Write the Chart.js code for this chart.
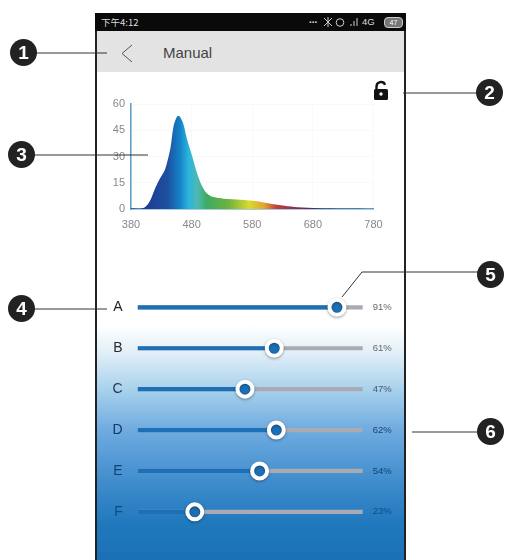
<!DOCTYPE html>
<html><head><meta charset="utf-8">
<script src="https://cdn.jsdelivr.net/npm/chart.js@4"></script>
<style>
html,body{margin:0;padding:0;background:#fff;width:505px;height:560px;overflow:hidden;font-family:"Liberation Sans",Arial,sans-serif}
.abs{position:absolute}
#phone{left:95px;top:13px;width:311px;height:547px;box-sizing:border-box;border-left:2px solid #222;border-right:2px solid #222;
background:linear-gradient(to bottom,#fff 0,#fff 312px,#e2eff8 340px,#a6d0ec 378px,#6fabe0 417px,#3f8ccc 470px,#2079bd 510px,#1c70b6 547px)}
#status{left:95px;top:13px;width:311px;height:18px;background:#0a0a0a;color:#ddd;font-size:9.5px;line-height:18px}
#head{left:97px;top:31px;width:307px;height:41px;background:#e3e3e3}
#title{left:163px;top:44px;font-size:15px;color:#444}
.num{width:27px;height:27px;border-radius:50%;background:#222;color:#fff;text-align:center;font:bold 19px/27px "Liberation Sans",Arial,sans-serif}
canvas{position:absolute}
</style></head>
<body>
<div id="phone" class="abs"></div>
<div id="status" class="abs">
<span class="abs" style="left:6px;font-family:'Noto Sans CJK SC'">下午4:12</span>
<span class="abs" style="left:214px;top:-2px;font-size:10px;font-weight:bold">...</span>
<span class="abs" style="left:267px;font-size:9.5px">4G</span>
<span class="abs" style="left:289px;top:4px;width:17px;height:9px;border:1px solid #ccc;border-radius:4px;background:#777;font-size:7px;line-height:9px;text-align:center;color:#fff">47</span>
</div>
<div id="head" class="abs"></div>
<div id="title" class="abs">Manual</div>
<canvas id="spec" width="300" height="140" style="left:100px;top:90px;width:300px;height:140px"></canvas>
<canvas id="sl" width="310" height="305" style="left:96px;top:257px;width:310px;height:305px"></canvas>
<svg class="abs" style="left:0;top:0" width="505" height="560" viewBox="0 0 505 560" fill="none">
<g stroke="#ccc" stroke-width="1">
<path d="M324 18l8 8M332 18l-8 8M328 17v10"/>
<circle cx="340" cy="22.5" r="3.8"/>
<path d="M351 26v-2M354 26v-5M357 26v-8"/>
</g>
<polyline points="132,45 122,53.5 132,62" stroke="#555" stroke-width="1"/>
<g stroke="#333" stroke-width="1">
<line x1="36" y1="53" x2="107" y2="53"/>
<line x1="403" y1="93" x2="477" y2="93"/>
<line x1="34" y1="155" x2="148" y2="155"/>
<line x1="34" y1="309" x2="107" y2="309"/>
<polyline points="342,297 362,272 478,272"/>
<line x1="412" y1="432" x2="478" y2="432"/>
</g>
<path d="M376.5 90v-3.5a4.5 4.5 0 0 1 8.6-1.8" stroke="#111" stroke-width="2.4"/>
<rect x="374" y="89" width="14" height="11" rx="1.5" fill="#111"/>
<circle cx="381" cy="94" r="1.7" fill="#fff"/>
</svg>
<div class="abs num" style="left:10px;top:39px">1</div>
<div class="abs num" style="left:476px;top:79px">2</div>
<div class="abs num" style="left:8px;top:141px">3</div>
<div class="abs num" style="left:8px;top:295px">4</div>
<div class="abs num" style="left:477px;top:261px">5</div>
<div class="abs num" style="left:477px;top:418px">6</div>
<script>
const wavelengths=[380,395,403,411,420,428,436,445,450,456,460,466,472,481,489,497,505,516,533,561,588,610,633,655,688,733,780];
const intensity=[0.5,0.2,1,4.4,12,17.6,22.4,34.7,47,52.8,53,49,40.4,30,20.5,13.3,9,6.8,5.9,5.3,4.4,3,1.9,1,0.4,0.1,0];
const sliderNames=["A","B","C","D","E","F"];
const sliderValues=[91,61,47,62,54,23];
const sliderLabels=["91%","61%","47%","62%","54%","23%"];
const trackMin=-4.3, trackMax=103.3;

const specStops=[[400,'#1d3a92'],[440,'#1e4f9f'],[460,'#1480c6'],[475,'#2cb4dc'],[490,'#4db9b2'],[505,'#3faa62'],[540,'#6db23f'],[575,'#d9d92f'],[600,'#e2a330'],[620,'#c2403a'],[650,'#8f2f4c'],[690,'#3a2a60'],[780,'#222233']];

new Chart(document.getElementById('spec'),{
 type:'line',
 data:{datasets:[{data:wavelengths.map((w,i)=>({x:w,y:intensity[i]})),
  borderWidth:0,pointRadius:0,tension:0.3,fill:'origin',
  backgroundColor(c){const a=c.chart.chartArea;if(!a)return '#1480c6';
   const x=c.chart.scales.x,g=c.chart.ctx.createLinearGradient(a.left,0,a.right,0);
   specStops.forEach(s=>g.addColorStop((x.getPixelForValue(s[0])-a.left)/(a.right-a.left),s[1]));return g;}}]},
 options:{responsive:false,animation:false,layout:{autoPadding:false,padding:{top:14,right:26.5}},
  plugins:{legend:{display:false},tooltip:{enabled:false}},
  scales:{
   x:{type:'linear',min:380,max:780,afterFit(s){s.height=21},
    grid:{color:'rgba(0,0,0,0.025)',drawTicks:false},border:{color:'#5b9ec8',width:1.5},
    ticks:{stepSize:100,color:'#888',font:{size:11,family:'Liberation Sans'},padding:9,maxRotation:0}},
   y:{min:0,max:60,afterFit(s){s.width=31},
    grid:{color:'rgba(0,0,0,0.025)',drawTicks:false},border:{color:'#5b9ec8',width:1.5},
    ticks:{stepSize:15,color:'#888',font:{size:11,family:'Liberation Sans'},padding:6}}}}
});

const shadow={id:'thumbShadow',
 beforeDatasetDraw(c,a){if(a.index===2){const x=c.ctx;x.save();x.shadowColor='rgba(0,0,0,0.35)';x.shadowBlur=3;x.shadowOffsetY=1}},
 afterDatasetDraw(c,a){if(a.index===2)c.ctx.restore()}};

const rowColor=['#222','#2a2a2a','#263a50','#123a63','#0f4474','#0f4a80'];
const pctColor=['#666','#666','#4d5a68','#1f4468','#0f4474','#0f4a80'];
new Chart(document.getElementById('sl'),{
 type:'bar',
 plugins:[shadow],
 data:{labels:sliderNames,datasets:[
  {data:sliderNames.map(()=>[trackMin,trackMax]),backgroundColor:'#aaaab2',barThickness:3.5,order:3},
  {data:sliderValues.map(v=>[trackMin,v]),backgroundColor:'#1e70b6',barThickness:3.5,order:2},
  {type:'scatter',data:sliderValues.map((v,i)=>({x:v,y:sliderNames[i]})),order:1,clip:false,
   pointRadius:7.5,borderWidth:4,pointBackgroundColor:'#1e70b6',pointBorderColor:'#fff',pointHoverRadius:7.5}
 ]},
 options:{indexAxis:'y',responsive:false,animation:false,events:[],grouped:false,
  layout:{autoPadding:false,padding:{top:29.9,bottom:29.7}},
  plugins:{legend:{display:false},tooltip:{enabled:false}},
  scales:{
   x:{type:'linear',min:trackMin,max:trackMax,display:false},
   y:{type:'category',labels:sliderNames,position:'left',afterFit(s){s.width=41.7},
    grid:{display:false,drawTicks:false},border:{display:false},
    ticks:{padding:15,color:c=>rowColor[c.index],font:{size:14,family:'Liberation Sans'}}},
   y2:{type:'category',labels:sliderLabels,position:'right',afterFit(s){s.width=43.3},
    grid:{display:false,drawTicks:false},border:{display:false},
    ticks:{padding:10,color:c=>pctColor[c.index],font:{size:9.5,family:'Liberation Sans'}}}}}
});
</script>
</body></html>
